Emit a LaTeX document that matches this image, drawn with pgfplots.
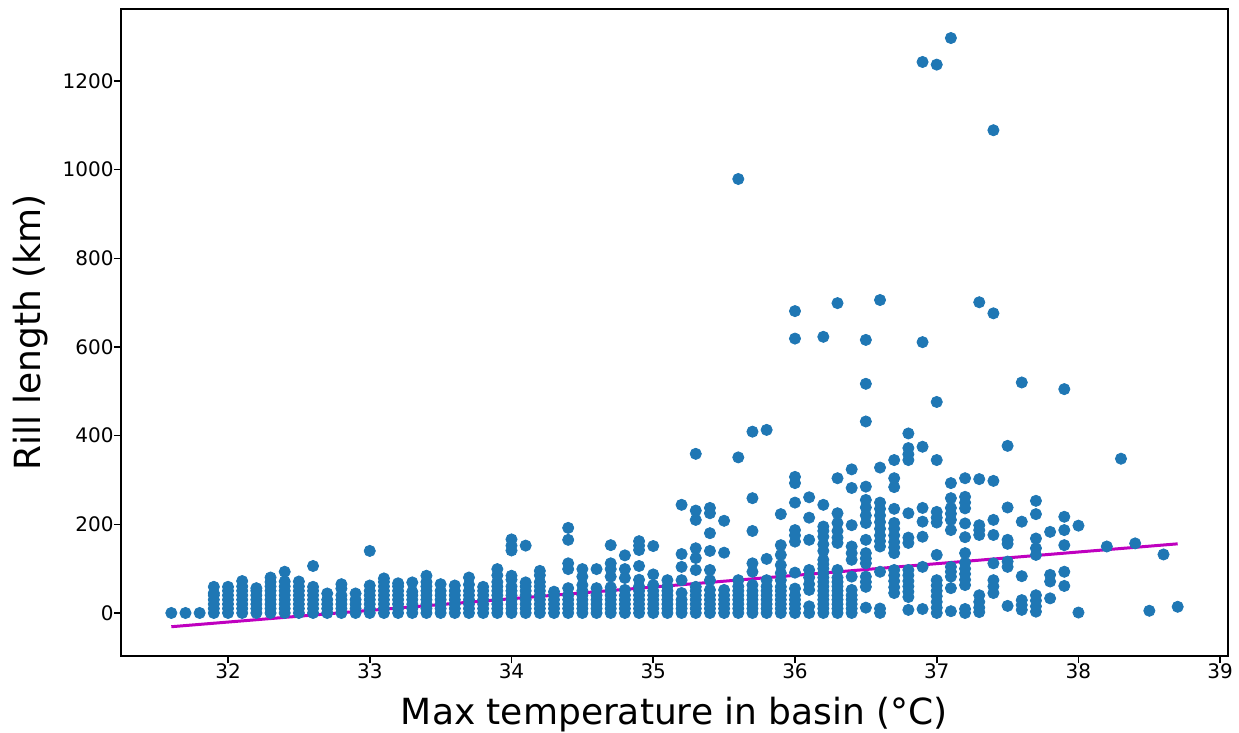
\documentclass[border=0pt]{standalone}
\usepackage{fontspec}
\setmainfont{DejaVu Sans}
\usepackage{pgfplots}
\pgfplotsset{compat=1.18}
\usetikzlibrary{calc}
\definecolor{tabblue}{HTML}{1F77B4}
\definecolor{mline}{rgb}{0.75,0,0.75}
\begin{document}
\begin{tikzpicture}
\begin{axis}[
  scale only axis, width=553.5pt, height=323.65pt,
  xmin=31.245, xmax=39.055, ymin=-97.7, ymax=1362.5,
  xtick={32,33,34,35,36,37,38,39}, ytick={0,200,400,600,800,1000,1200},
  xtick pos=bottom, ytick pos=left,
  tick align=outside, major tick length=3.5pt,
  every tick/.style={black, line width=0.8pt},
  axis line style={line width=0.8pt},
  tick label style={font=\fontsize{10}{12}\selectfont},
  /pgf/number format/assume math mode=true,
  /pgf/number format/set thousands separator={},
  xticklabel style={anchor=north, inner sep=0pt},
  yticklabel style={anchor=east, inner sep=0pt},
  xlabel={Max temperature in basin (°C)},
  ylabel={Rill length (km)},
  label style={font=\fontsize{18}{21.6}\selectfont},
  xlabel style={at={(axis description cs:0.5,-0.10613)}, anchor=base, inner sep=0pt},
  ylabel style={at={(axis description cs:-0.0729,0.5)}, anchor=base, inner sep=0pt},
]
\addplot[only marks, mark=*, mark size=2.8pt, color=tabblue, mark options={draw=tabblue, fill=tabblue}] coordinates {
(31.6,0)(31.7,0)(31.8,0)
(31.9,0)(31.9,10)(31.9,20)(31.9,30)(31.9,40)(31.9,45)(31.9,59)
(32.0,0)(32.0,10)(32.0,20)(32.0,30)(32.0,40)(32.0,50)(32.0,59)
(32.1,0)(32.1,10)(32.1,20)(32.1,30)(32.1,40)(32.1,50)(32.1,60)(32.1,72)
(32.2,0)(32.2,10)(32.2,20)(32.2,30)(32.2,40)(32.2,50)(32.2,56)
(32.3,0)(32.3,10)(32.3,20)(32.3,30)(32.3,40)(32.3,50)(32.3,60)(32.3,70)(32.3,80)
(32.4,0)(32.4,10)(32.4,20)(32.4,30)(32.4,40)(32.4,50)(32.4,60)(32.4,71)(32.4,93)
(32.5,0)(32.5,10)(32.5,20)(32.5,30)(32.5,40)(32.5,50)(32.5,60)(32.5,71)
(32.6,0)(32.6,10)(32.6,20)(32.6,30)(32.6,40)(32.6,50)(32.6,59)(32.6,106)
(32.7,0)(32.7,10)(32.7,20)(32.7,30)(32.7,44)
(32.8,0)(32.8,10)(32.8,20)(32.8,30)(32.8,40)(32.8,55)(32.8,65)
(32.9,0)(32.9,10)(32.9,20)(32.9,30)(32.9,44)
(33.0,0)(33.0,10)(33.0,20)(33.0,30)(33.0,40)(33.0,50)(33.0,62)(33.0,140)
(33.1,0)(33.1,10)(33.1,20)(33.1,30)(33.1,40)(33.1,50)(33.1,60)(33.1,70)(33.1,78)
(33.2,0)(33.2,10)(33.2,20)(33.2,30)(33.2,40)(33.2,50)(33.2,60)(33.2,67)
(33.3,0)(33.3,10)(33.3,20)(33.3,30)(33.3,40)(33.3,48)(33.3,69)
(33.4,0)(33.4,10)(33.4,20)(33.4,30)(33.4,40)(33.4,50)(33.4,60)(33.4,70)(33.4,84)
(33.5,0)(33.5,10)(33.5,20)(33.5,30)(33.5,40)(33.5,50)(33.5,65)
(33.6,0)(33.6,10)(33.6,20)(33.6,30)(33.6,40)(33.6,50)(33.6,62)
(33.7,0)(33.7,10)(33.7,20)(33.7,30)(33.7,40)(33.7,50)(33.7,64)(33.7,80)
(33.8,0)(33.8,10)(33.8,20)(33.8,30)(33.8,40)(33.8,50)(33.8,59)
(33.9,0)(33.9,10)(33.9,20)(33.9,30)(33.9,40)(33.9,50)(33.9,60)(33.9,70)(33.9,85)(33.9,99)
(34.0,0)(34.0,10)(34.0,20)(34.0,30)(34.0,40)(34.0,50)(34.0,60)(34.0,75)(34.0,84)(34.0,141)(34.0,152)(34.0,166)
(34.1,0)(34.1,10)(34.1,20)(34.1,30)(34.1,40)(34.1,50)(34.1,60)(34.1,69)(34.1,152)
(34.2,0)(34.2,10)(34.2,20)(34.2,30)(34.2,40)(34.2,50)(34.2,60)(34.2,70)(34.2,85)(34.2,95)
(34.3,0)(34.3,10)(34.3,20)(34.3,30)(34.3,40)(34.3,48)
(34.4,0)(34.4,10)(34.4,20)(34.4,30)(34.4,40)(34.4,56)(34.4,99)(34.4,112)(34.4,165)(34.4,192)
(34.5,0)(34.5,10)(34.5,20)(34.5,30)(34.5,40)(34.5,50)(34.5,63)(34.5,82)(34.5,99)
(34.6,0)(34.6,10)(34.6,20)(34.6,30)(34.6,40)(34.6,56)(34.6,99)
(34.7,0)(34.7,10)(34.7,20)(34.7,30)(34.7,40)(34.7,50)(34.7,58)(34.7,82)(34.7,99)(34.7,112)(34.7,153)
(34.8,0)(34.8,10)(34.8,20)(34.8,30)(34.8,40)(34.8,52)(34.8,79)(34.8,99)(34.8,130)
(34.9,0)(34.9,10)(34.9,20)(34.9,30)(34.9,40)(34.9,50)(34.9,60)(34.9,75)(34.9,106)(34.9,142)(34.9,152)(34.9,162)
(35.0,0)(35.0,10)(35.0,20)(35.0,30)(35.0,40)(35.0,50)(35.0,63)(35.0,87)(35.0,151)
(35.1,0)(35.1,10)(35.1,20)(35.1,30)(35.1,40)(35.1,50)(35.1,60)(35.1,74)
(35.2,0)(35.2,10)(35.2,20)(35.2,30)(35.2,45)(35.2,74)(35.2,104)(35.2,133)(35.2,244)
(35.3,0)(35.3,10)(35.3,20)(35.3,30)(35.3,40)(35.3,50)(35.3,59)(35.3,97)(35.3,124)(35.3,146)(35.3,210)(35.3,231)(35.3,359)
(35.4,0)(35.4,10)(35.4,20)(35.4,30)(35.4,40)(35.4,52)(35.4,74)(35.4,97)(35.4,140)(35.4,180)(35.4,225)(35.4,237)
(35.5,0)(35.5,10)(35.5,20)(35.5,30)(35.5,40)(35.5,52)(35.5,136)(35.5,208)
(35.6,0)(35.6,10)(35.6,20)(35.6,30)(35.6,40)(35.6,50)(35.6,60)(35.6,74)(35.6,351)(35.6,979)
(35.7,0)(35.7,10)(35.7,20)(35.7,30)(35.7,40)(35.7,50)(35.7,63)(35.7,93)(35.7,112)(35.7,185)(35.7,259)(35.7,409)
(35.8,0)(35.8,10)(35.8,20)(35.8,30)(35.8,40)(35.8,50)(35.8,60)(35.8,74)(35.8,122)(35.8,413)
(35.9,0)(35.9,10)(35.9,20)(35.9,30)(35.9,40)(35.9,50)(35.9,59)(35.9,74)(35.9,90)(35.9,108)(35.9,131)(35.9,153)(35.9,223)
(36.0,0)(36.0,10)(36.0,20)(36.0,30)(36.0,40)(36.0,55)(36.0,91)(36.0,161)(36.0,175)(36.0,187)(36.0,249)(36.0,293)(36.0,307)(36.0,619)(36.0,681)
(36.1,0)(36.1,15)(36.1,52)(36.1,65)(36.1,80)(36.1,97)(36.1,165)(36.1,215)(36.1,261)
(36.2,0)(36.2,10)(36.2,20)(36.2,30)(36.2,40)(36.2,50)(36.2,60)(36.2,70)(36.2,80)(36.2,90)(36.2,100)(36.2,110)(36.2,120)(36.2,140)(36.2,155)(36.2,172)(36.2,185)(36.2,195)(36.2,244)(36.2,623)
(36.3,0)(36.3,10)(36.3,20)(36.3,30)(36.3,40)(36.3,50)(36.3,60)(36.3,70)(36.3,80)(36.3,97)(36.3,158)(36.3,170)(36.3,185)(36.3,203)(36.3,225)(36.3,304)(36.3,699)
(36.4,0)(36.4,10)(36.4,20)(36.4,30)(36.4,40)(36.4,52)(36.4,82)(36.4,120)(36.4,135)(36.4,150)(36.4,198)(36.4,282)(36.4,324)
(36.5,12)(36.5,59)(36.5,70)(36.5,82)(36.5,112)(36.5,123)(36.5,135)(36.5,165)(36.5,203)(36.5,220)(36.5,238)(36.5,255)(36.5,285)(36.5,432)(36.5,517)(36.5,616)
(36.6,0)(36.6,10)(36.6,93)(36.6,150)(36.6,162)(36.6,175)(36.6,190)(36.6,205)(36.6,220)(36.6,235)(36.6,249)(36.6,328)(36.6,706)
(36.7,45)(36.7,58)(36.7,72)(36.7,85)(36.7,97)(36.7,135)(36.7,148)(36.7,160)(36.7,175)(36.7,190)(36.7,203)(36.7,235)(36.7,284)(36.7,304)(36.7,345)
(36.8,7)(36.8,36)(36.8,48)(36.8,60)(36.8,72)(36.8,85)(36.8,97)(36.8,158)(36.8,170)(36.8,225)(36.8,345)(36.8,358)(36.8,372)(36.8,405)
(36.9,9)(36.9,104)(36.9,172)(36.9,206)(36.9,237)(36.9,375)(36.9,611)(36.9,1243)
(37.0,0)(37.0,12)(37.0,25)(37.0,38)(37.0,50)(37.0,62)(37.0,74)(37.0,131)(37.0,204)(37.0,215)(37.0,228)(37.0,345)(37.0,476)(37.0,1237)
(37.1,4)(37.1,56)(37.1,82)(37.1,93)(37.1,104)(37.1,187)(37.1,210)(37.1,224)(37.1,237)(37.1,259)(37.1,293)(37.1,1297)
(37.2,0)(37.2,9)(37.2,63)(37.2,75)(37.2,88)(37.2,100)(37.2,113)(37.2,135)(37.2,171)(37.2,202)(37.2,236)(37.2,249)(37.2,262)(37.2,304)
(37.3,2)(37.3,12)(37.3,25)(37.3,40)(37.3,176)(37.3,187)(37.3,198)(37.3,302)(37.3,701)
(37.4,45)(37.4,60)(37.4,74)(37.4,112)(37.4,176)(37.4,210)(37.4,298)(37.4,676)(37.4,1089)
(37.5,16)(37.5,104)(37.5,116)(37.5,156)(37.5,165)(37.5,238)(37.5,377)
(37.6,7)(37.6,18)(37.6,29)(37.6,83)(37.6,206)(37.6,520)
(37.7,3)(37.7,15)(37.7,28)(37.7,40)(37.7,131)(37.7,146)(37.7,168)(37.7,223)(37.7,253)
(37.8,33)(37.8,71)(37.8,86)(37.8,183)
(37.9,61)(37.9,93)(37.9,153)(37.9,187)(37.9,217)(37.9,505)
(38.0,1)(38.0,197)
(38.2,150)(38.3,348)(38.4,157)(38.5,5)(38.6,132)(38.7,14)
};
\addplot[mline, line width=1.5pt] coordinates {(31.6,-31) (38.7,156)};
\end{axis}
\path ($(current axis.south west)+(-60.5pt,-38.35pt)$) rectangle ($(current axis.north east)+(5.5pt,4.5pt)$);
\end{tikzpicture}
\end{document}
